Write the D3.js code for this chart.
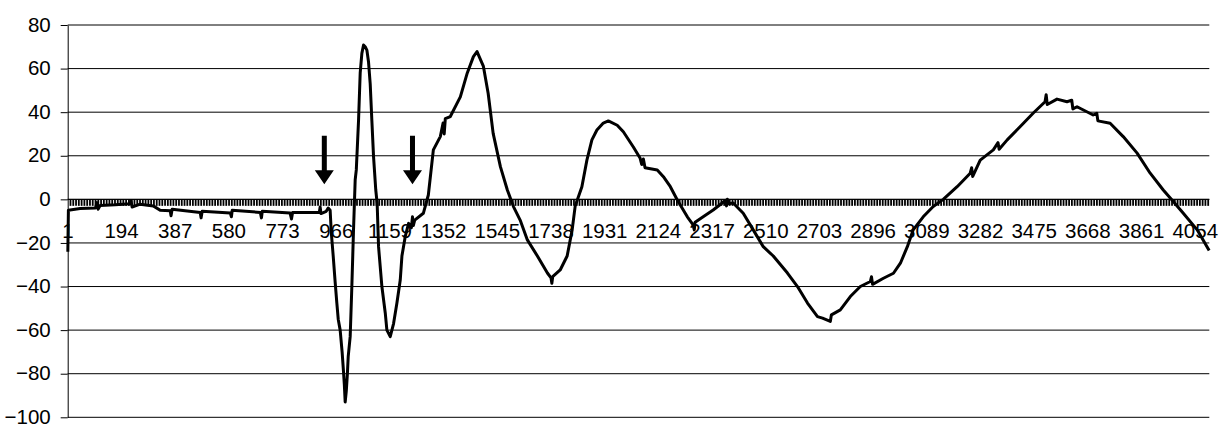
<!DOCTYPE html>
<html>
<head>
<meta charset="utf-8">
<script src="https://cdn.jsdelivr.net/npm/d3@7"></script>
<style>
  body { margin: 0; background: #fff; }
  text { font-family: Arial, "Liberation Sans", sans-serif; font-size: 20.5px; fill: #000; }
</style>
</head>
<body>
<script>
const width = 1222;
const height = 426;

// number of categories on the x axis
const categoryCount = 4104;
const labelStep = 193;
const tickStep = 10;

const yTicks = [-100, -80, -60, -40, -20, 0, 20, 40, 60, 80];

// signal: category index and value
const sampleIndex = [1, 3, 45, 100, 106, 110, 117, 171, 225, 228, 232, 261, 308, 333, 369, 372, 376, 477, 480, 484,
  585, 589, 592, 693, 697, 700, 800, 805, 809, 872, 905, 908, 911, 930, 937, 944, 948, 955, 962, 968,
  973, 980, 987, 992, 995, 998, 1002, 1006, 1009, 1016, 1022, 1028, 1034, 1038, 1046, 1052, 1058, 1064, 1070, 1076,
  1082, 1088, 1094, 1100, 1108, 1113, 1118, 1130, 1142, 1148, 1160, 1172, 1184, 1196, 1202, 1214, 1226, 1236, 1240, 1243,
  1248, 1279, 1297, 1315, 1340, 1350, 1354, 1358, 1376, 1412, 1437, 1459, 1472, 1495, 1512, 1530, 1556, 1581, 1603, 1627,
  1653, 1689, 1725, 1738, 1741, 1744, 1771, 1796, 1814, 1825, 1849, 1867, 1885, 1903, 1926, 1944, 1976, 1998, 2034, 2058,
  2064, 2070, 2076, 2120, 2142, 2167, 2192, 2228, 2249, 2253, 2256, 2285, 2321, 2365, 2369, 2372, 2376, 2393, 2429, 2465,
  2501, 2537, 2588, 2624, 2660, 2696, 2714, 2742, 2746, 2778, 2814, 2850, 2886, 2890, 2894, 2933, 2969, 2994, 3019, 3040,
  3076, 3112, 3148, 3198, 3245, 3250, 3254, 3281, 3328, 3345, 3349, 3378, 3425, 3471, 3514, 3518, 3522, 3557, 3593, 3610,
  3614, 3629, 3687, 3700, 3704, 3748, 3795, 3845, 3892, 3939, 3975, 4011, 4061, 4104];

const sampleValue = [-24, -5, -4.2, -4, -1.5, -4.5, -2.8, -2.5, -2, -0.5, -3.5, -2.2, -3, -5, -5.2, -7.5, -4.5, -6, -8.5, -5.5,
  -6.3, -8, -5, -6, -8.5, -5.5, -6.3, -9, -6, -6, -6, -3.5, -6.5, -5.5, -4, -5, -15, -26, -38, -47.5,
  -55, -60, -70, -79, -85, -93, -88, -80, -72, -63, -40, -14, 9, 13.5, 36, 58, 67, 70.8, 70, 68.5,
  63, 53, 36, 19.6, 4.3, -2, -21.7, -40, -52, -60, -63, -57, -47.6, -37, -26, -17, -11, -13, -8, -12,
  -9.5, -6.4, 2, 22.7, 28.8, 35, 30, 37, 38, 47, 58, 65.5, 67.8, 61, 48.7, 30.3, 15, 4.3, -3.3, -9.5,
  -18.6, -26, -33.8, -36, -38.5, -35.5, -32.4, -26, -14, -3, 5.8, 18, 27.3, 31.8, 35, 36, 34, 31, 24, 19,
  16, 18.5, 14.5, 13.5, 10.4, 5.8, -0.3, -8, -11.7, -14, -10.5, -8, -4.9, -0.5, -3, 0, -2, -1.7, -6.4, -14,
  -21.7, -26, -33.8, -40, -47.6, -53.8, -54.5, -56, -53, -50.7, -44.6, -40, -37.7, -35.5, -39, -36.2, -33.9, -29.3, -21.7, -14,
  -8, -3.3, 0, 5.8, 12, 14.5, 10.5, 18, 22.7, 26, 23, 27.3, 33.4, 39.5, 44.8, 48, 43.5, 46, 44.8, 45.5,
  41.5, 42.5, 38.7, 39.5, 36, 34.9, 28.8, 21.2, 12, 4.3, -1, -6.4, -14, -23.5];

// arrow annotations: category index, tip value and tail value
const arrowIndex = [923, 1240];
const arrowTip = [6.9, 6.9];
const arrowTail = [29.2, 29.2];

const svg = d3.select('body').append('svg')
  .attr('width', width)
  .attr('height', height);

const x = d3.scaleLinear()
  .domain([0.5, categoryCount + 0.5])
  .range([67.7, 1209.3]);

const y = d3.scaleLinear()
  .domain([-100, 80])
  .range([417.3, 25]);

// gridlines
svg.append('g')
  .selectAll('line')
  .data(yTicks)
  .enter()
  .append('line')
  .attr('x1', x.range()[0])
  .attr('x2', x.range()[1])
  .attr('y1', d => y(d))
  .attr('y2', d => y(d))
  .attr('stroke', '#000')
  .attr('stroke-width', 1);

// y axis
const yAxis = d3.axisLeft(y)
  .tickValues(yTicks)
  .tickSize(7)
  .tickPadding(10)
  .tickSizeOuter(0);

const gy = svg.append('g')
  .attr('transform', `translate(${x.range()[0]},0)`)
  .call(yAxis);
gy.select('.domain').attr('stroke', '#000');
gy.selectAll('.tick line').attr('stroke', '#000');
gy.selectAll('text')
  .attr('font-size', 20.5)
  .attr('font-family', 'Arial, "Liberation Sans", sans-serif')
  .attr('fill', '#000')
  .attr('dy', '0.3em');

// x axis at zero with dense tick marks
const tickCats = d3.range(tickStep, categoryCount + 1, tickStep);
const xAxisG = svg.append('g');
xAxisG.append('line')
  .attr('x1', x.range()[0])
  .attr('x2', x.range()[1])
  .attr('y1', y(0))
  .attr('y2', y(0))
  .attr('stroke', '#000');

xAxisG.selectAll('line.tk')
  .data(tickCats)
  .enter()
  .append('line')
  .attr('class', 'tk')
  .attr('x1', d => x(d + 0.5))
  .attr('x2', d => x(d + 0.5))
  .attr('y1', y(0))
  .attr('y2', y(0) + 6.5)
  .attr('stroke', '#000')
  .attr('stroke-width', 1.8);

const labelCats = d3.range(1, categoryCount + 1, labelStep);
xAxisG.selectAll('text')
  .data(labelCats)
  .enter()
  .append('text')
  .attr('x', d => x(d))
  .attr('y', y(0) + 39)
  .attr('text-anchor', 'middle')
  .text(d => d);

// signal line
const samples = sampleIndex.map((d, i) => ({ idx: d, val: sampleValue[i] }));
const line = d3.line()
  .x(d => x(d.idx))
  .y(d => y(d.val));

svg.append('path')
  .datum(samples)
  .attr('d', line)
  .attr('fill', 'none')
  .attr('stroke', '#000')
  .attr('stroke-width', 3)
  .attr('stroke-linejoin', 'round');

// arrows
const arrows = arrowIndex.map((d, i) => ({ idx: d, tip: arrowTip[i], tail: arrowTail[i] }));
svg.selectAll('path.arrow')
  .data(arrows)
  .enter()
  .append('path')
  .attr('class', 'arrow')
  .attr('fill', '#000')
  .attr('d', d => {
    const cx = x(d.idx);
    const tipY = y(d.tip);
    const tailY = y(d.tail);
    const headY = tipY - 14;
    return `M${cx - 2.5},${tailY} L${cx + 2.5},${tailY} L${cx + 2.5},${headY} L${cx + 9.5},${headY}
            L${cx},${tipY} L${cx - 9.5},${headY} L${cx - 2.5},${headY} Z`;
  });
</script>
</body>
</html>
